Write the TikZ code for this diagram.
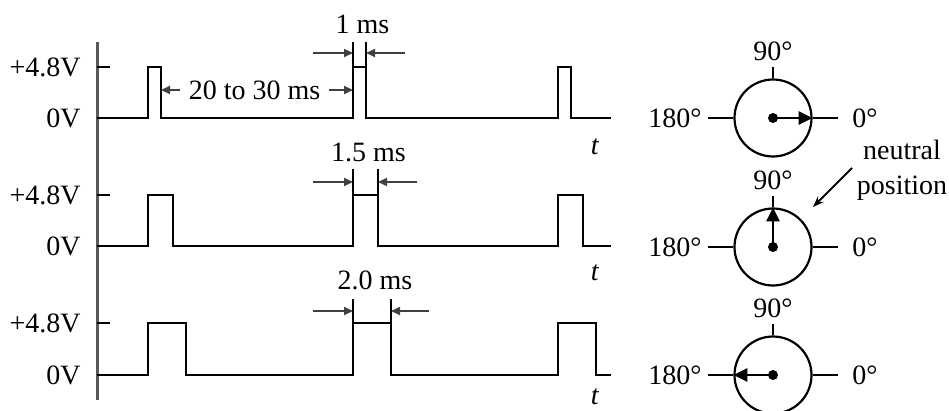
\documentclass[tikz,border=0pt]{standalone}
\usepackage{fontspec}
\setmainfont{Liberation Serif}
\usetikzlibrary{arrows.meta,positioning}

\begin{document}
\begin{tikzpicture}[
  x=0.5pt, y=-0.5pt,
  font=\fontsize{14}{17.5}\selectfont,
  sig/.style={line width=1.1pt, line join=miter},
  axisline/.style={line width=1.5pt, black!65},
  ext/.style={line width=0.8pt},
  dimarr/.style={-{Triangle[length=4.5pt,width=4pt]}, line width=1pt, black!75},
  pointer/.style={-{Triangle[length=7pt,width=6.5pt]}, line width=1.3pt},
  notearr/.style={-{Stealth[length=5.5pt,width=4pt]}, line width=0.9pt},
  dial/.style={circle, draw, line width=1.1pt, minimum size=38.5pt, inner sep=0pt},
  hub/.style={circle, fill, inner sep=0pt, minimum size=5pt},
  volt/.style={anchor=east, inner sep=0pt}
]
  \useasboundingbox (0,0) rectangle (949,411);

  % time axis and the three pulse trains
  \draw[axisline] (97,42) -- (97,400);
  \foreach \n/\b/\h/\w/\e/\a/\r/\txt/\ly/\ty in {
      1/118/67/13/42/53/405/{1 ms}/24/147,
      2/246/195/25/169/182/417/{1.5 ms}/152/273,
      3/375/323/38/299/311/429/{2.0 ms}/280/397}{
    \draw[sig] (97,\b) -- (148,\b) -- (148,\h) -- ({148+\w},\h) -- ({148+\w},\b)
      -- (353,\b) -- (353,\h) -- ({353+\w},\h) -- ({353+\w},\b)
      -- (558,\b) -- (558,\h) -- ({558+\w},\h) -- ({558+\w},\b) -- (611,\b);
    \draw[sig] (97,\h) -- (110,\h);
    \node[volt] (hi\n) at (81,\h) {+4.8V};
    \node[volt] (lo\n) at (81,\b) {0V};
    \node (t\n) at (595,\ty) {\textit{t}};
    % pulse width
    \coordinate (wl\n) at (353,\a);
    \coordinate (wr\n) at ({353+\w},\a);
    \draw[ext] (353,\h) -- (353,\e);
    \draw[ext] ({353+\w},\h) -- ({353+\w},\e);
    \draw[dimarr] (313,\a) -- (wl\n);
    \draw[dimarr] (\r,\a) -- (wr\n);
    \node (w\n) at ({356+\w/2},\ly) {\txt};
  }

  % period
  \node[inner xsep=4pt] (period) at (254.5,90) {20 to 30 ms};
  \coordinate (pa) at (161,90);
  \coordinate (pb) at (353,90);
  \draw[dimarr] (period.west) -- (pa);
  \draw[dimarr] (period.east) -- (pb);

  % servo positions
  \foreach \n/\y/\dir in {A/118/east, B/247/north, C/375/west}{
    \node[dial] (dial\n) at (773,\y) {};
    \node[anchor=east, inner xsep=3pt] (left\n) at (708,\y) {180°};
    \node[anchor=west, inner xsep=7pt] (right\n) at (838,\y) {0°};
    \node[anchor=south, inner ysep=3pt] (top\n) at (773,{\y-51}) {90°};
    \draw[sig] (dial\n.west) -- (left\n.east);
    \draw[sig] (dial\n.east) -- (right\n.west);
    \draw[sig] (dial\n.north) -- (top\n.south);
    \node[hub] (hub\n) at (dial\n.center) {};
    \draw[pointer] (hub\n.center) -- (dial\n.\dir);
  }

  \node[align=center] (note) at (902,170) {neutral\\position};
  \coordinate (tipB) at (813,207);
  \draw[notearr] (852,168) -- (tipB);
\end{tikzpicture}
\end{document}
